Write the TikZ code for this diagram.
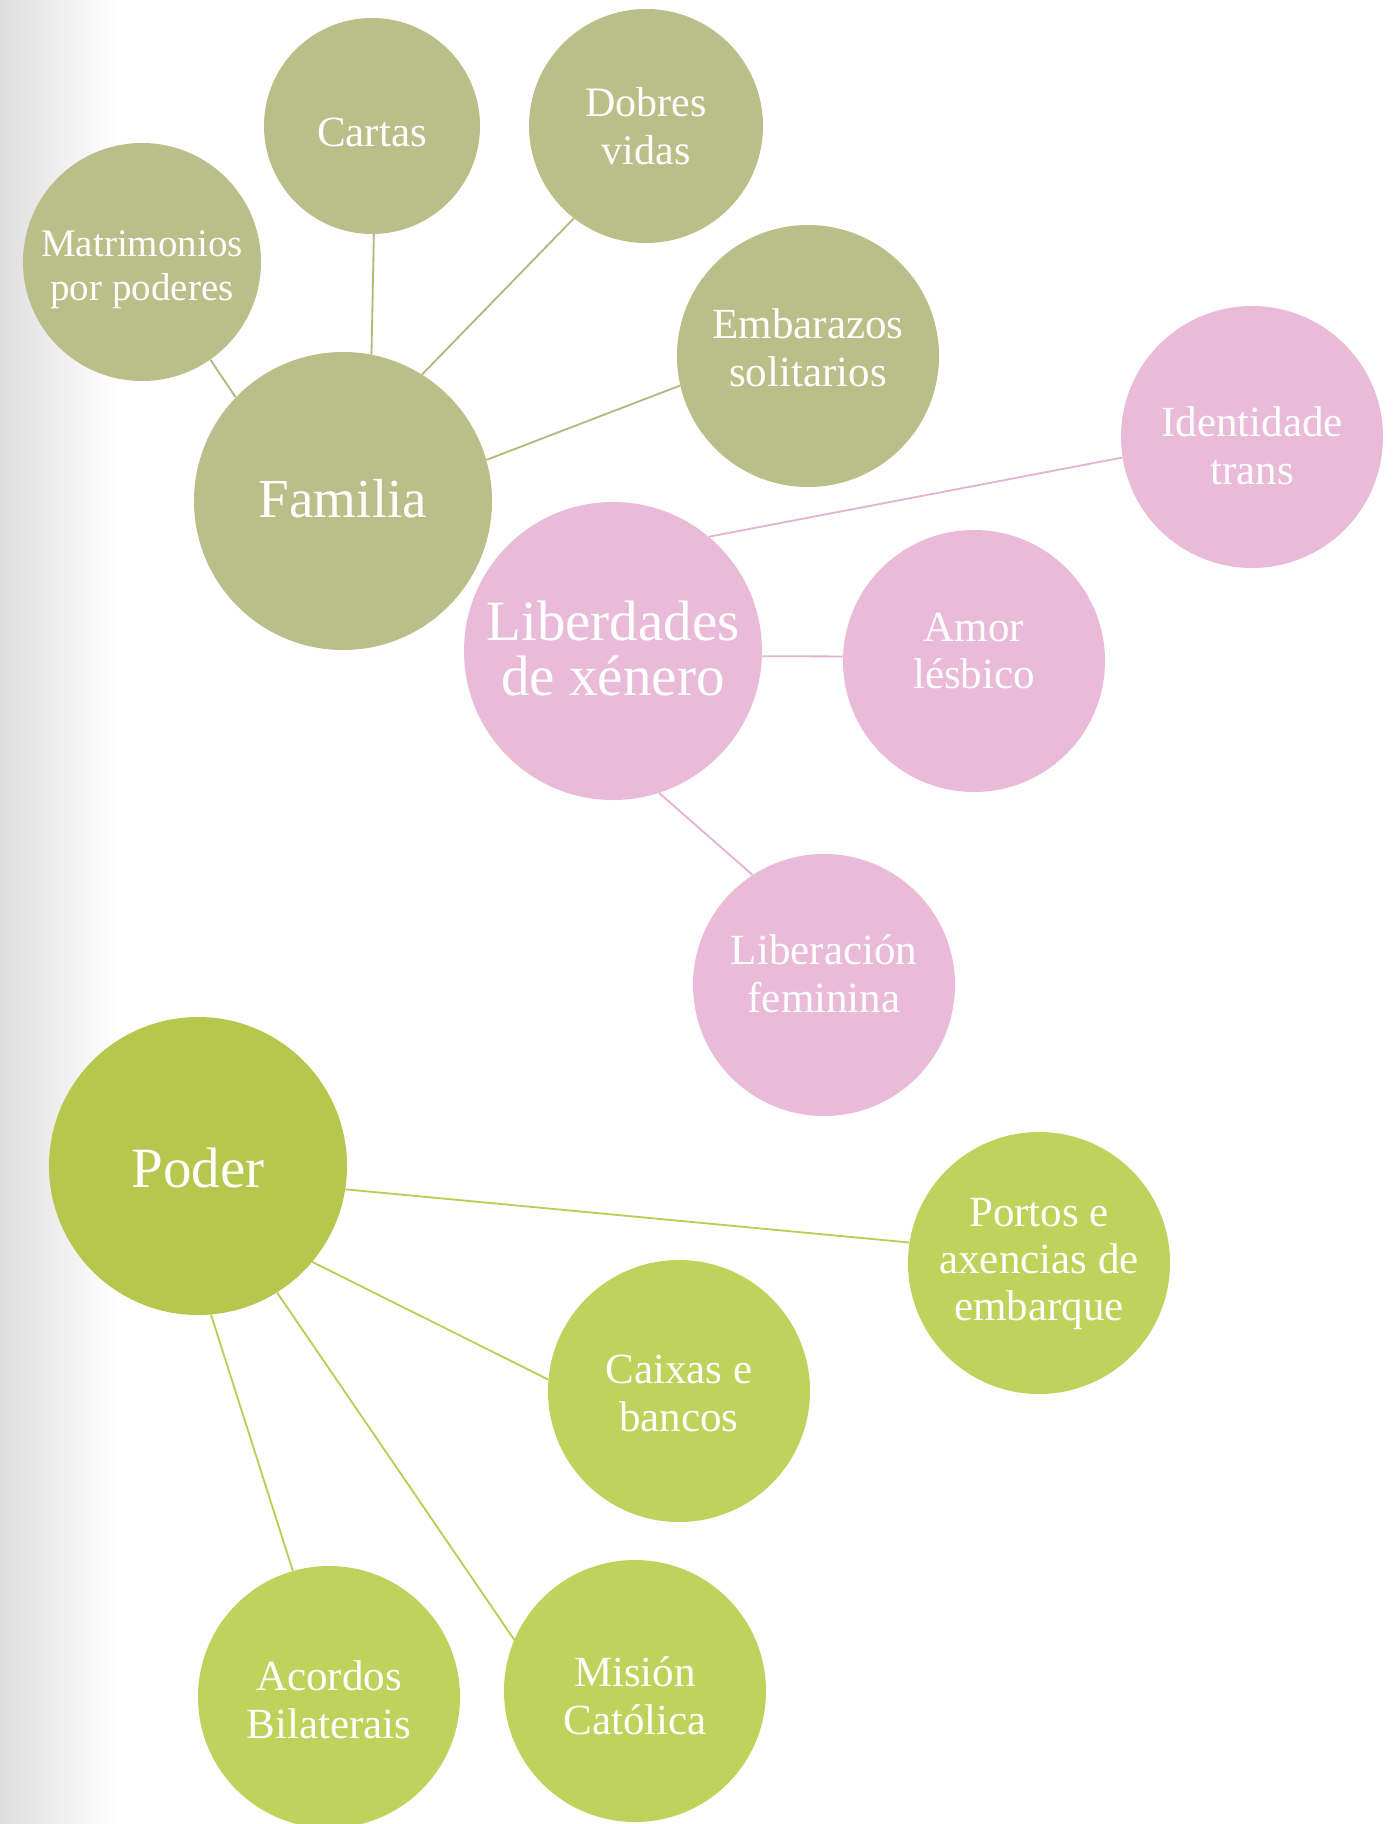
\documentclass[tikz,border=0pt]{standalone}
\usepackage{fontspec}
\setmainfont{Liberation Serif}
\definecolor{olive}{RGB}{186,190,136}
\definecolor{oliveline}{RGB}{178,183,124}
\definecolor{pinkc}{RGB}{233,187,216}
\definecolor{pinkline}{RGB}{230,178,212}
\definecolor{poderc}{RGB}{182,199,78}
\definecolor{greenc}{RGB}{191,210,92}
\definecolor{greenline}{RGB}{186,204,84}
\tikzset{
  bub/.style={circle, inner sep=0pt, minimum size=262pt},
  bigbub/.style={bub, minimum size=298pt},
  txt/.style={text=white, align=flush center, text width=330pt, anchor=base, inner sep=0pt, font=\fontsize{43}{48}\selectfont},
  bigtxt/.style={txt, font=\fontsize{57}{55}\selectfont},
  conn/.style={line width=1.8pt}
}
\begin{document}
\begin{tikzpicture}[x=1pt,y=-1pt]
\useasboundingbox (0,0) rectangle (1397,1824);
\fill[white] (0,0) rectangle (1397,1824);
\shade[left color={rgb,255:red,222;green,222;blue,222}, right color=white] (0,0) rectangle (118,1824);

% Familia group
\node[bigbub, fill=olive] (fam) at (343,501) {};
\node[bub, fill=olive, minimum size=238pt] (mat) at (142,262) {};
\node[bub, fill=olive, minimum size=216pt] (cartas) at (372,126) {};
\node[bub, fill=olive, minimum size=234pt] (dobres) at (646,126) {};
\node[bub, fill=olive] (emb) at (808,356) {};

% Liberdades group
\node[bigbub, fill=pinkc] (lib) at (613,651) {};
\node[bub, fill=pinkc] (ident) at (1252,437) {};
\node[bub, fill=pinkc] (amor) at (974,661) {};
\node[bub, fill=pinkc] (libfem) at (824,985) {};

% Poder group
\node[bigbub, fill=poderc] (poder) at (198,1166) {};
\node[bub, fill=greenc] (portos) at (1039,1263) {};
\node[bub, fill=greenc] (caixas) at (679,1391) {};
\node[bub, fill=greenc] (acordos) at (329,1697) {};
\node[bub, fill=greenc] (mision) at (635,1691) {};

% texts (anchored at first baseline)
\node[bigtxt, font=\fontsize{55}{55}\selectfont] (fam-t) at (343,517) {Familia};
\node[txt, font=\fontsize{39}{44}\selectfont] (mat-t) at (142,256) {Matrimonios\\por poderes};
\node[txt] (cartas-t) at (372,146) {Cartas};
\node[txt, font=\fontsize{42}{48}\selectfont] (dobres-t) at (646,116) {Dobres\\vidas};
\node[txt] (emb-t) at (808,338) {Embarazos\\solitarios};

\node[bigtxt] (lib-t) at (613,640) {Liberdades\\de xénero};
\node[txt] (ident-t) at (1252,436) {Identidade\\trans};
\node[txt, font=\fontsize{43}{47}\selectfont] (amor-t) at (974,641) {Amor\\lésbico};
\node[txt] (libfem-t) at (824,964) {Liberación\\feminina};

\node[bigtxt] (poder-t) at (198,1187) {Poder};
\node[txt, font=\fontsize{43}{47}\selectfont] (portos-t) at (1039,1226) {Portos e\\axencias de\\embarque};
\node[txt] (caixas-t) at (679,1383) {Caixas e\\bancos};
\node[txt] (acordos-t) at (329,1690) {Acordos\\Bilaterais};
\node[txt] (mision-t) at (635,1686) {Misión\\Católica};

% connectors
\draw[conn, oliveline] (mat.-55.4) -- (fam.136.3);
\draw[conn, oliveline] (cartas.-89.4) -- (fam.79.7);
\draw[conn, oliveline] (dobres.232.2) -- (fam.58.8);
\draw[conn, oliveline] (emb.193.3) -- (fam.16.9);

\draw[conn, pinkline] (ident.189.7) -- (lib.50.8);
\draw[conn, pinkline] (amor.178.7) -- (lib.-2.7);
\draw[conn, pinkline] (libfem.123.6) -- (lib.-72.8);

\draw[conn, greenline] (portos.171.9) -- (poder.-9.8);
\draw[conn, greenline] (caixas.175.4) -- (poder.-40.9);
\draw[conn, greenline] (mision.157.3) -- (poder.-58.0);
\draw[conn, greenline] (acordos.106.6) -- (poder.-85.1);
\end{tikzpicture}
\end{document}
